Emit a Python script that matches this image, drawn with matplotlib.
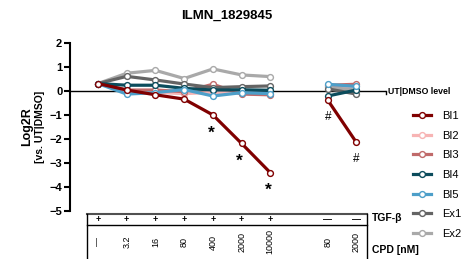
import matplotlib
matplotlib.use("Agg")
import matplotlib.pyplot as plt
from matplotlib.lines import Line2D
import matplotlib.transforms as mtransforms

plt.rcParams['font.family'] = ['Liberation Sans', 'DejaVu Sans']

title = "ILMN_1829845"
series_names = ["BI1", "BI2", "BI3", "BI4", "BI5", "Ex1", "Ex2"]
colors = ["#800000", "#f7b4b4", "#c06a6a", "#0b4c5c", "#4d9fc9", "#646464", "#a9a9a9"]

# group 1: TGF-b + with CPD doses (first is no CPD); group 2: TGF-b - with CPD
tgf_labels = ["+", "+", "+", "+", "+", "+", "+", "\u2014", "\u2014"]
cpd_labels = ["\u2014", "3.2", "16", "80", "400", "2000", "10000", "80", "2000"]
pos1 = [0, 1, 2, 3, 4, 5, 6]
pos2 = [8, 9]

g1 = {
    "BI1": [0.32, 0.05, -0.15, -0.33, -0.99, -2.18, -3.40],
    "BI2": [0.32, 0.00, -0.05, -0.10, -0.05, -0.08, -0.10],
    "BI3": [0.32, 0.05, 0.05, -0.02, 0.29, -0.12, -0.15],
    "BI4": [0.32, 0.25, 0.25, 0.12, 0.05, 0.06, 0.04],
    "BI5": [0.32, -0.12, -0.06, 0.07, -0.20, -0.06, -0.10],
    "Ex1": [0.32, 0.62, 0.47, 0.30, 0.15, 0.19, 0.22],
    "Ex2": [0.32, 0.75, 0.87, 0.53, 0.93, 0.68, 0.61],
}
g2 = {
    "BI1": [-0.37, -2.14],
    "BI2": [0.22, 0.22],
    "BI3": [0.25, 0.29],
    "BI4": [-0.20, 0.05],
    "BI5": [0.29, 0.20],
    "Ex1": [0.10, -0.12],
    "Ex2": [0.16, 0.05],
}
star_pos = [4, 5, 6]
hash_pos = [8, 9]

W, H = 475, 259
fig = plt.figure(figsize=(W / 100, H / 100), dpi=100)
ax_l, ax_r, ax_t, ax_b = 70, 386, 43.3, 211
ax = fig.add_axes([ax_l / W, 1 - ax_b / H, (ax_r - ax_l) / W, (ax_b - ax_t) / H])
ax.set_xlim(-0.976, 10.03)
ax.set_ylim(-5, 2)

order = ["BI2", "BI3", "Ex2", "Ex1", "BI4", "BI5", "BI1"]
for name in order:
    c = colors[series_names.index(name)]
    kw = dict(color=c, lw=2.3, marker='o', ms=4.2, mfc='white', mec=c, mew=1.0,
              solid_capstyle='round', clip_on=False)
    ax.plot(pos1, g1[name], zorder=3, **kw)
    ax.plot(pos2, g2[name], zorder=3, **kw)

# zero (UT|DMSO level) line
ax.axhline(0, color='black', lw=1.0, zorder=2)
btr = mtransforms.blended_transform_factory(ax.transAxes, ax.transData)
ax.plot([1, 1], [0, -0.13], transform=btr, color='black', lw=1.0, clip_on=False)
ax.text(1.007, 0, "UT|DMSO level", transform=btr,
        fontsize=6.3, fontweight='bold', va='center', ha='left')

for p in star_pos:
    ax.annotate("*", (p, g1["BI1"][p]), xytext=(-1.5, -13), textcoords='offset points',
                ha='center', va='center', fontsize=12.5, fontweight='bold')
for i, p in enumerate(hash_pos):
    ax.annotate("#", (p, g2["BI1"][i]), xytext=(0, -12), textcoords='offset points',
                ha='center', va='center', fontsize=8.5)

for s in ["top", "right", "bottom"]:
    ax.spines[s].set_visible(False)
ax.spines["left"].set_linewidth(1.5)
ax.set_xticks([])
ax.set_yticks([2, 1, 0, -1, -2, -3, -4, -5])
ax.tick_params(axis='y', length=4, width=1.5, labelsize=8, pad=1.5)
for lab in ax.get_yticklabels():
    lab.set_fontweight('bold')

fig.text(27 / W, 1 - 127 / H, "Log2R", rotation=90, ha='center', va='center',
         fontsize=9, fontweight='bold')
fig.text(40 / W, 1 - 127 / H, "[vs. UT|DMSO]", rotation=90, ha='center', va='center',
         fontsize=7.5, fontweight='bold')

fig.text(227 / W, 1 - 15.5 / H, title, ha='center', va='center', fontsize=9.5, fontweight='bold')

# table under plot
tr = mtransforms.blended_transform_factory(ax.transData, fig.transFigure)
xl, xr = -0.38, 9.36
ytop, ysep = 1 - 214 / H, 1 - 225 / H
lc = '#505050'
ax.add_line(Line2D([xl, xr], [ytop, ytop], transform=tr, color=lc, lw=1.5, clip_on=False))
ax.add_line(Line2D([xl, xr], [ysep, ysep], transform=tr, color='black', lw=1.0, clip_on=False))
ax.add_line(Line2D([xl, xl], [ytop, 0], transform=tr, color='black', lw=1.0, clip_on=False))
ax.add_line(Line2D([xr, xr], [ytop, 0], transform=tr, color='black', lw=1.0, clip_on=False))
allpos = pos1 + pos2
for p, t, c in zip(allpos, tgf_labels, cpd_labels):
    ax.text(p, 1 - 219.5 / H, t, transform=tr, ha='center', va='center', fontsize=6.5,
            fontweight='bold', clip_on=False)
    ax.text(p, 1 - 242 / H, c, transform=tr, ha='center', va='center', fontsize=6.5,
            rotation=90, clip_on=False)
fig.text(372 / W, 1 - 218 / H, "TGF-\u03b2", ha='left', va='center', fontsize=7.5, fontweight='bold')
fig.text(372 / W, 1 - 250 / H, "CPD [nM]", ha='left', va='center', fontsize=7.5, fontweight='bold')

# legend
handles = [Line2D([], [], color=colors[i], lw=2.3, marker='o', ms=4.2, mfc='white',
                  mec=colors[i], mew=1.0) for i in range(len(series_names))]
fig.legend(handles, series_names, loc='upper left', bbox_to_anchor=(413 / W, 1 - 111 / H),
           frameon=False, fontsize=8, handlelength=1.6, handletextpad=1.0,
           labelspacing=0.87, borderpad=0, borderaxespad=0)

fig.savefig("out.png", dpi=100)
